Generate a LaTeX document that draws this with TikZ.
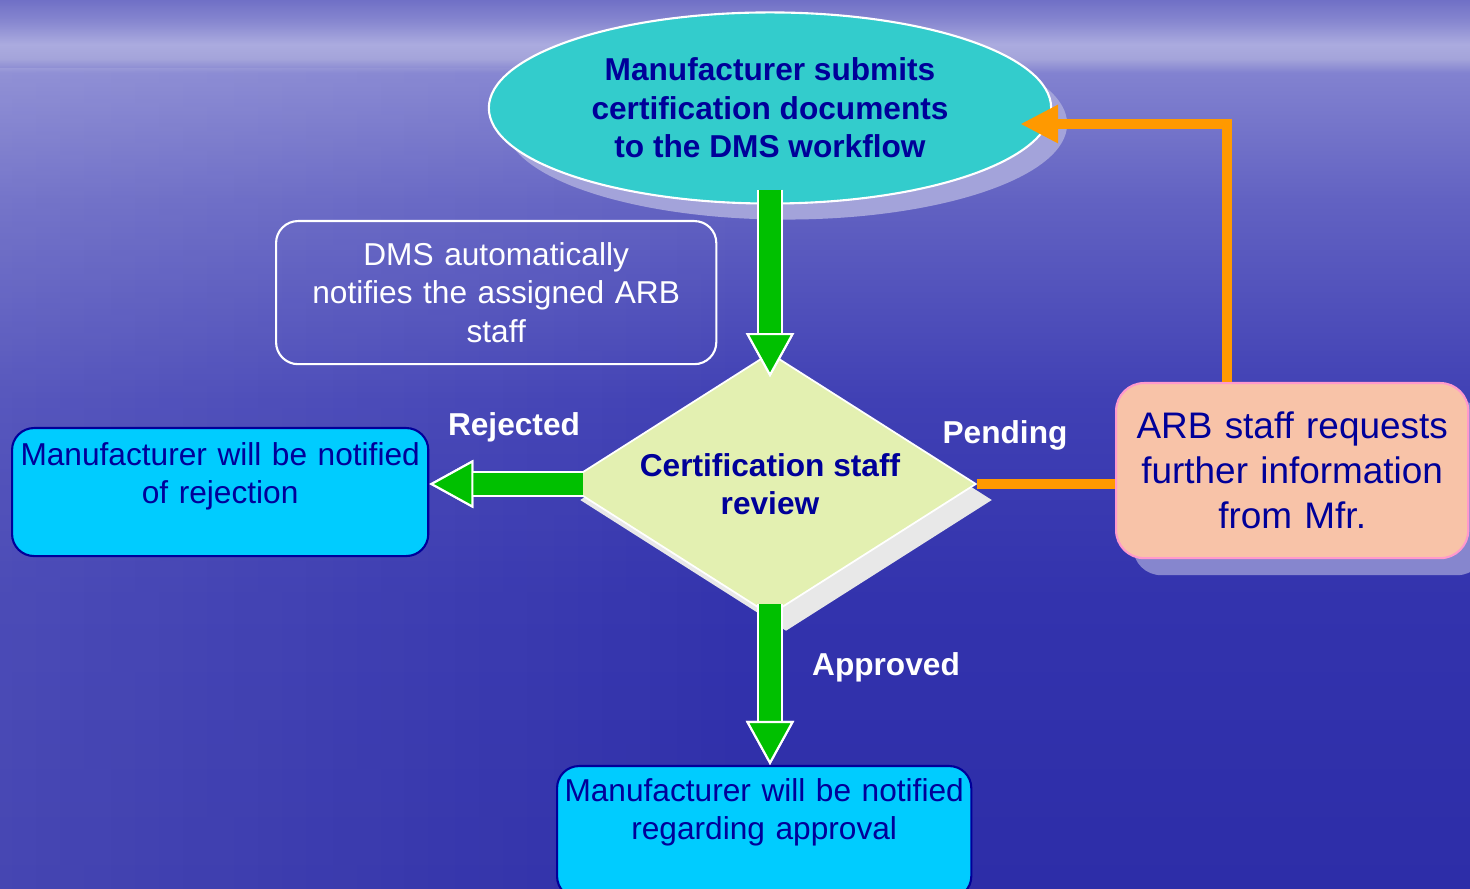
\documentclass[tikz,border=0pt]{standalone}
\usepackage{fontspec}
\setmainfont{Liberation Sans}
\usetikzlibrary{shapes.geometric,arrows.meta,shadows,fadings}
\definecolor{bgA}{HTML}{7070C6}
\definecolor{bgB}{HTML}{8787D0}
\definecolor{bgC}{HTML}{ABABDF}
\definecolor{bgD}{HTML}{A4A4DA}
\definecolor{bgE}{HTML}{8282D0}
\definecolor{bgF}{HTML}{6262C2}
\definecolor{bgG}{HTML}{4040B4}
\definecolor{bgH}{HTML}{3333AD}
\definecolor{bgI}{HTML}{2D2DA8}
\definecolor{mblue}{HTML}{000099}
\definecolor{teal}{HTML}{33CCCC}
\definecolor{ellshade}{HTML}{A3A3DA}
\definecolor{lime}{HTML}{E3F0B1}
\definecolor{diashade}{HTML}{E8E8E8}
\definecolor{agreen}{HTML}{00C000}
\definecolor{aorange}{HTML}{FF9900}
\definecolor{cyanbox}{HTML}{00CCFF}
\definecolor{peach}{HTML}{F8C3A8}
\definecolor{pinkline}{HTML}{FF99CC}
\definecolor{arbshade}{HTML}{8686CE}
\pgfdeclareverticalshading{sea}{100bp}{color(0bp)=(bgI); color(25bp)=(bgI); color(41.3bp)=(bgH); color(52.5bp)=(bgG); color(63.75bp)=(bgF); color(70.9bp)=(bgE); color(71.7bp)=(bgD); color(72.5bp)=(bgC); color(73.8bp)=(bgB); color(75bp)=(bgA); color(100bp)=(bgA)}
\begin{document}
\begin{tikzpicture}[x=0.01cm, y=-0.01cm, every node/.style={inner sep=0pt},
  txt/.style={font=\fontsize{9}{11}\selectfont},
  bold/.style={font=\fontsize{9}{10.9}\selectfont\bfseries},
  roundbox/.style={draw, rounded corners=0.22cm, anchor=north west, align=center},
  outbox/.style={roundbox, txt, fill=cyanbox, draw=mblue, line width=0.6pt, text=mblue},
  lbl/.style={bold, text=white},
  gtip/.style={-{Triangle[length=0.44cm, width=0.48cm, line width=0.6pt, fill=agreen, color=white]}},
  garrow/.style={draw=agreen, line width=0.22cm, gtip,
    preaction={draw=white, line width=0.26cm, gtip}},
  oline/.style={draw=aorange, line width=0.1cm},
  oarrow/.style={oline, -{Triangle[length=0.38cm, width=0.36cm]}}]
\useasboundingbox (0,0) rectangle (1470,889);
\shade[shading=sea] (0,0) rectangle (1470,889);
\fill[white, opacity=0.12, path fading=east] (0,68) rectangle (760,889);

\node[ellipse, minimum width=5.62cm, minimum height=1.91cm, fill=teal, draw=white, line width=0.6pt,
  bold, text=mblue, align=center,
  drop shadow={fill=ellshade, opacity=1, shadow xshift=0.16cm, shadow yshift=-0.16cm}]
  (sub) at (770,108) {Manufacturer submits\\certification documents\\to the DMS workflow};

\node[roundbox, txt, draw=white, line width=0.6pt, text=white, text width=4.4cm,
  text height=12.55pt, text depth=28.15pt] (dms) at (275,220)
  {DMS automatically\\notifies the assigned ARB\\staff};

\node[diamond, aspect=1.573, minimum width=4.12cm, minimum height=2.62cm, fill=lime,
  draw=white, line width=0.5pt, bold, text=mblue, align=center,
  drop shadow={fill=diashade, opacity=1, shadow xshift=0.16cm, shadow yshift=-0.16cm}]
  (rev) at (770,484) {Certification staff\\review};

\node[outbox, text width=4.16cm, text height=10.55pt, text depth=25.85pt] (rej) at (11,427)
  {Manufacturer will be notified\\of rejection};
\node[outbox, text width=4.14cm, text height=9.95pt, text depth=27.65pt] (app) at (556,765)
  {Manufacturer will be notified\\regarding approval};

\node[roundbox, rounded corners=0.28cm, fill=peach, draw=pinkline, line width=0.6pt, text=mblue,
  font=\fontsize{10.5}{12.8}\selectfont, text width=3.52cm, text height=15.65pt, text depth=34.15pt,
  drop shadow={fill=arbshade, opacity=1, shadow xshift=0.17cm, shadow yshift=-0.17cm}]
  (arb) at (1115,382) {ARB staff requests\\further information\\from Mfr.};

\node[lbl] (lrej) at (514,427) {Rejected};
\node[lbl] (lpend) at (1005,435) {Pending};
\node[lbl] (lapp) at (886,667) {Approved};

\draw[garrow] ([yshift=0.15cm]sub.south) -- ([yshift=-0.25cm]rev.north);
\draw[garrow] ([xshift=0.2cm]rev.west) -- (rev.west -| rej.east);
\draw[garrow] ([yshift=0.12cm]rev.south) -- (rev.south |- app.north);

\draw[oline] (rev.east) -- (rev.east -| arb.west);
\draw[oarrow] ([xshift=-0.65cm]arb.north) |- ([xshift=-0.32cm, yshift=-0.16cm]sub.east);
\end{tikzpicture}
\end{document}
